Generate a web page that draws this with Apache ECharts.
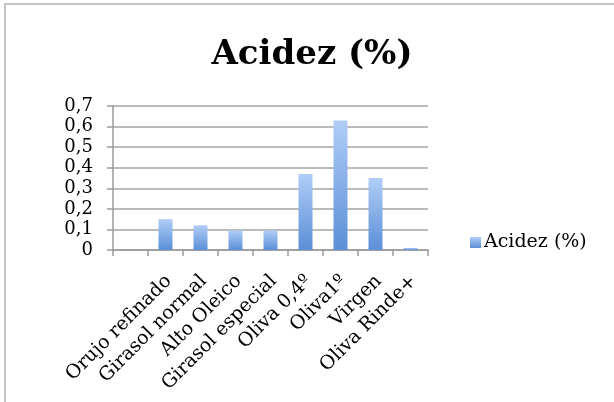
<!DOCTYPE html>
<html>
<head>
<meta charset="utf-8">
<script src="https://cdn.jsdelivr.net/npm/echarts@6/dist/echarts.min.js"></script>
<style>
  html, body { margin: 0; padding: 0; background: #ffffff; }
  #chart { width: 614px; height: 402px; }
</style>
</head>
<body>
<div id="chart"></div>
<script>
// Acidity per oil type (first slot is an empty spacer category)
const categories = ['', 'Orujo refinado', 'Girasol normal', 'Alto Oleico', 'Girasol especial', 'Oliva 0,4º', 'Oliva1º', 'Virgen', 'Oliva Rinde+'];
const acidez = [null, 0.15, 0.12, 0.095, 0.095, 0.37, 0.63, 0.35, 0.01];
const seriesName = 'Acidez (%)';
const yTicks = { min: 0, max: 0.7, step: 0.1 };

const serif = 'DejaVu Serif';
const chart = echarts.init(document.getElementById('chart'), null, { renderer: 'canvas' });

chart.setOption({
  animation: false,
  backgroundColor: '#ffffff',
  title: {
    text: 'Acidez (%)',
    left: 312,
    textAlign: 'center',
    top: 38,
    padding: 0,
    textStyle: { fontFamily: serif, fontWeight: 'bold', fontSize: 34, color: '#000000' }
  },
  legend: {
    left: 470,
    top: 233,
    padding: 0,
    itemWidth: 11,
    itemHeight: 11,
    itemGap: 4,
    icon: 'rect',
    textStyle: { fontFamily: serif, fontSize: 19, color: '#000000', padding: [0, 0, 0, -2] },
    data: [seriesName]
  },
  grid: { left: 113, right: 186, top: 106, bottom: 152, containLabel: false },
  xAxis: {
    type: 'category',
    data: categories,
    boundaryGap: true,
    axisLine: { show: true, lineStyle: { color: '#9a9a9a', width: 1.5 } },
    axisTick: { show: true, length: 6, lineStyle: { color: '#9a9a9a', width: 1.5 } },
    axisLabel: {
      interval: 0,
      rotate: 45,
      margin: 18,
      verticalAlign: 'top',
      padding: [0, 5, 0, 0],
      fontFamily: serif,
      fontSize: 19,
      color: '#000000'
    }
  },
  yAxis: {
    type: 'value',
    min: yTicks.min,
    max: yTicks.max,
    interval: yTicks.step,
    axisLine: { show: true, lineStyle: { color: '#9a9a9a', width: 1.5 } },
    axisTick: { show: true, length: 6, lineStyle: { color: '#9a9a9a', width: 1.5 } },
    splitLine: { show: true, lineStyle: { color: '#a4a4a4', width: 1.5 } },
    axisLabel: {
      margin: 20,
      fontFamily: serif,
      fontSize: 18,
      color: '#000000',
      formatter: v => (v === 0 ? '0' : v.toFixed(1).replace('.', ','))
    }
  },
  series: [{
    name: seriesName,
    type: 'bar',
    data: acidez,
    barWidth: 14,
    itemStyle: {
      color: new echarts.graphic.LinearGradient(0, 0, 0, 1, [
        { offset: 0, color: '#b0cdf7' },
        { offset: 1, color: '#5b8fd7' }
      ])
    }
  }],
  graphic: [{
    type: 'rect',
    shape: { x: 5, y: 4, width: 640, height: 420 },
    style: { fill: 'none', stroke: '#c4c4c4', lineWidth: 2 },
    silent: true
  }]
});
</script>
</body>
</html>
